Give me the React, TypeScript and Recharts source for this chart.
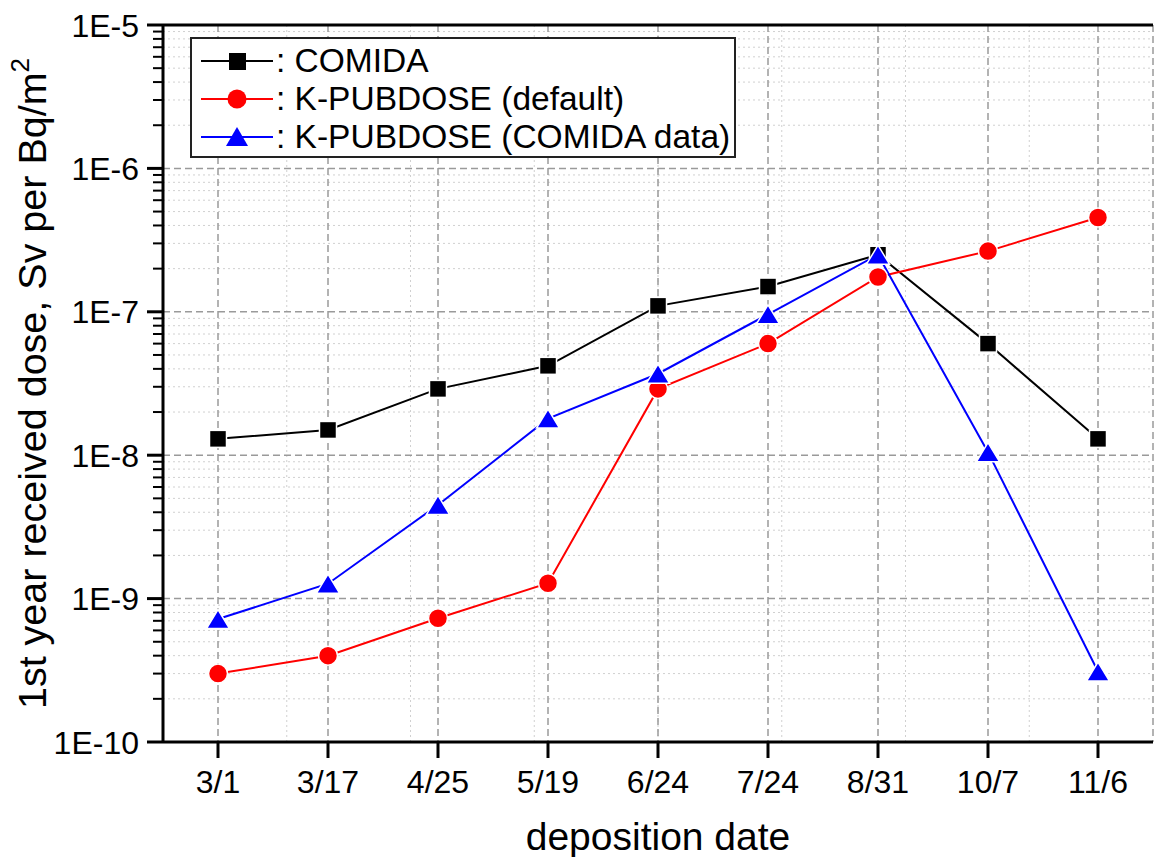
import React from 'react';
import { LineChart, Line, XAxis, YAxis, CartesianGrid, Legend, ReferenceLine } from 'recharts';

const dates = ['3/1', '3/17', '4/25', '5/19', '6/24', '7/24', '8/31', '10/7', '11/6'];
const comida = [1.3e-8, 1.5e-8, 2.9e-8, 4.2e-8, 1.1e-7, 1.5e-7, 2.5e-7, 6.0e-8, 1.3e-8];
const kDefault = [3.0e-10, 4.0e-10, 7.3e-10, 1.28e-9, 2.9e-8, 6.0e-8, 1.75e-7, 2.65e-7, 4.55e-7];
const kComida = [7.2e-10, 1.27e-9, 4.5e-9, 1.8e-8, 3.7e-8, 9.6e-8, 2.5e-7, 1.05e-8, 3.1e-10];

const majorY = [1e-10, 1e-9, 1e-8, 1e-7, 1e-6, 1e-5];
const minorY: number[] = [];
for (let e = -10; e < -5; e++) {
  for (let m = 2; m <= 9; m++) minorY.push(m * Math.pow(10, e));
}
const minorX = [0, 1, 2, 3, 4, 5, 6, 7, 8, 9];

const data = dates.map((d, i) => ({ date: d, comida: comida[i], kDefault: kDefault[i], kComida: kComida[i] }));

const FONT = '"Liberation Sans", Arial, sans-serif';

const isMajor = (v: number) => {
  const l = Math.log10(v);
  return Math.abs(l - Math.round(l)) < 1e-6;
};

const YTick = (props: any) => {
  const { x, y, payload } = props;
  const v = payload.value;
  const major = isMajor(v);
  return (
    <g>
      <line x1={x - (major ? 16 : 10)} x2={x} y1={y} y2={y} stroke="#000" strokeWidth={major ? 3 : 2} />
      {major && (
        <text x={x - 24} y={y} dy="0.36em" textAnchor="end" fontFamily={FONT} fontSize={32} fill="#000">
          {'1E' + Math.round(Math.log10(v))}
        </text>
      )}
    </g>
  );
};

const XTick = (props: any) => {
  const { x, y, payload } = props;
  return (
    <g>
      <line x1={x} x2={x} y1={y} y2={y + 16} stroke="#000" strokeWidth={3} />
      <text x={x} y={y + 51} textAnchor="middle" fontFamily={FONT} fontSize={32} fill="#000">
        {payload.value}
      </text>
    </g>
  );
};

const Square = (props: any) => {
  const { cx, cy } = props;
  if (cx == null || cy == null) return null;
  const s = 17;
  return <rect x={cx - s / 2} y={cy - s / 2} width={s} height={s} fill="#000" stroke="#fff" strokeWidth={1.5} />;
};
const Circle = (props: any) => {
  const { cx, cy } = props;
  if (cx == null || cy == null) return null;
  return <circle cx={cx} cy={cy} r={9.5} fill="#ff0000" stroke="#fff" strokeWidth={1.5} />;
};
const Tri = (props: any) => {
  const { cx, cy } = props;
  if (cx == null || cy == null) return null;
  const w = 23, h = 19;
  return (
    <polygon
      points={`${cx - w / 2},${cy + h / 2} ${cx + w / 2},${cy + h / 2} ${cx},${cy - h / 2}`}
      fill="#0000ff"
      stroke="#fff"
      strokeWidth={1.5}
    />
  );
};

const legendItems = [
  { label: ': COMIDA', color: '#000', shape: 'square' },
  { label: ': K-PUBDOSE (default)', color: '#ff0000', shape: 'circle' },
  { label: ': K-PUBDOSE (COMIDA data)', color: '#0000ff', shape: 'tri' },
];

const renderLegend = () => (
  <div
    style={{
      width: 546,
      height: 121,
      border: '2px solid #222',
      background: '#fff',
      boxSizing: 'border-box',
      paddingTop: 3,
    }}
  >
    {legendItems.map((it) => (
      <div key={it.label} style={{ display: 'flex', alignItems: 'center', height: 38 }}>
        <svg width={84} height={38} style={{ display: 'block' }}>
          <line x1={9} x2={81} y1={19} y2={19} stroke={it.color} strokeWidth={2} />
          {it.shape === 'square' && <rect x={37} y={11} width={17} height={17} fill={it.color} />}
          {it.shape === 'circle' && <circle cx={45} cy={19} r={9.5} fill={it.color} />}
          {it.shape === 'tri' && <polygon points="34,28 56,28 45,9" fill={it.color} />}
        </svg>
        <span style={{ fontFamily: FONT, fontSize: 33.5, color: '#000', whiteSpace: 'nowrap', lineHeight: '38px' }}>
          {it.label}
        </span>
      </div>
    ))}
  </div>
);

const YLabel = (props: any) => {
  const vb = props.viewBox || {};
  const cx = 46;
  const cy = (vb.y ?? 25) + (vb.height ?? 717) / 2;
  return (
    <text
      x={cx}
      y={cy}
      transform={`rotate(-90, ${cx}, ${cy})`}
      textAnchor="middle"
      fontFamily={FONT}
      fontSize={39.5}
      fill="#000"
    >
      1st year received dose, Sv per Bq/m
      <tspan fontSize={26} dy={-17}>2</tspan>
    </text>
  );
};

const XLabel = (props: any) => {
  const vb = props.viewBox || {};
  const cx = (vb.x ?? 163) + (vb.width ?? 990) / 2;
  const y = (vb.y ?? 742) + 108;
  return (
    <text x={cx} y={y} textAnchor="middle" fontFamily={FONT} fontSize={39} fill="#000">
      deposition date
    </text>
  );
};

export default function App() {
  return (
    <div style={{ position: 'absolute', left: 0, top: 0, width: 1159, height: 857, background: '#fff' }}>
      <LineChart
        width={1159}
        height={857}
        data={data}
        margin={{ top: 25, right: 6, bottom: 65, left: 0 }}
      >
        <XAxis xAxisId="minor" type="number" domain={[0, 9]} hide />
        <CartesianGrid
          xAxisId="minor"
          verticalValues={minorX}
          horizontalValues={minorY}
          stroke="#d0d0d0"
          strokeDasharray="2 3"
          strokeWidth={1}
        />
        <CartesianGrid
          horizontalValues={majorY}
          stroke="#9a9a9a"
          strokeDasharray="7 4"
          strokeWidth={1.5}
        />
        <XAxis
          dataKey="date"
          height={50}
          padding={{ left: 55, right: 55 }}
          tickSize={0}
          tickMargin={0}
          tickLine={false}
          tick={<XTick />}
          axisLine={{ stroke: '#000', strokeWidth: 3 }}
          interval={0}
          label={<XLabel />}
        />
        <YAxis
          scale="log"
          type="number"
          domain={[1e-10, 1e-5]}
          allowDataOverflow
          ticks={[...majorY, ...minorY]}
          interval={0}
          width={163}
          tickSize={0}
          tickMargin={0}
          tickLine={false}
          tick={<YTick />}
          axisLine={{ stroke: '#000', strokeWidth: 3 }}
          label={<YLabel />}
        />
        <ReferenceLine y={1e-5} stroke="#000" strokeWidth={3} />
        <Legend
          layout="vertical"
          align="center"
          verticalAlign="middle"
          content={renderLegend}
          wrapperStyle={{ position: 'absolute', left: 190, top: 37, width: 546, height: 121 }}
        />
        <Line
          dataKey="comida"
          stroke="#000"
          strokeWidth={2}
          dot={<Square />}
          activeDot={false}
          isAnimationActive={false}
        />
        <Line
          dataKey="kDefault"
          stroke="#ff0000"
          strokeWidth={2}
          dot={<Circle />}
          activeDot={false}
          isAnimationActive={false}
        />
        <Line
          dataKey="kComida"
          stroke="#0000ff"
          strokeWidth={2}
          dot={<Tri />}
          activeDot={false}
          isAnimationActive={false}
        />
      </LineChart>
    </div>
  );
}
